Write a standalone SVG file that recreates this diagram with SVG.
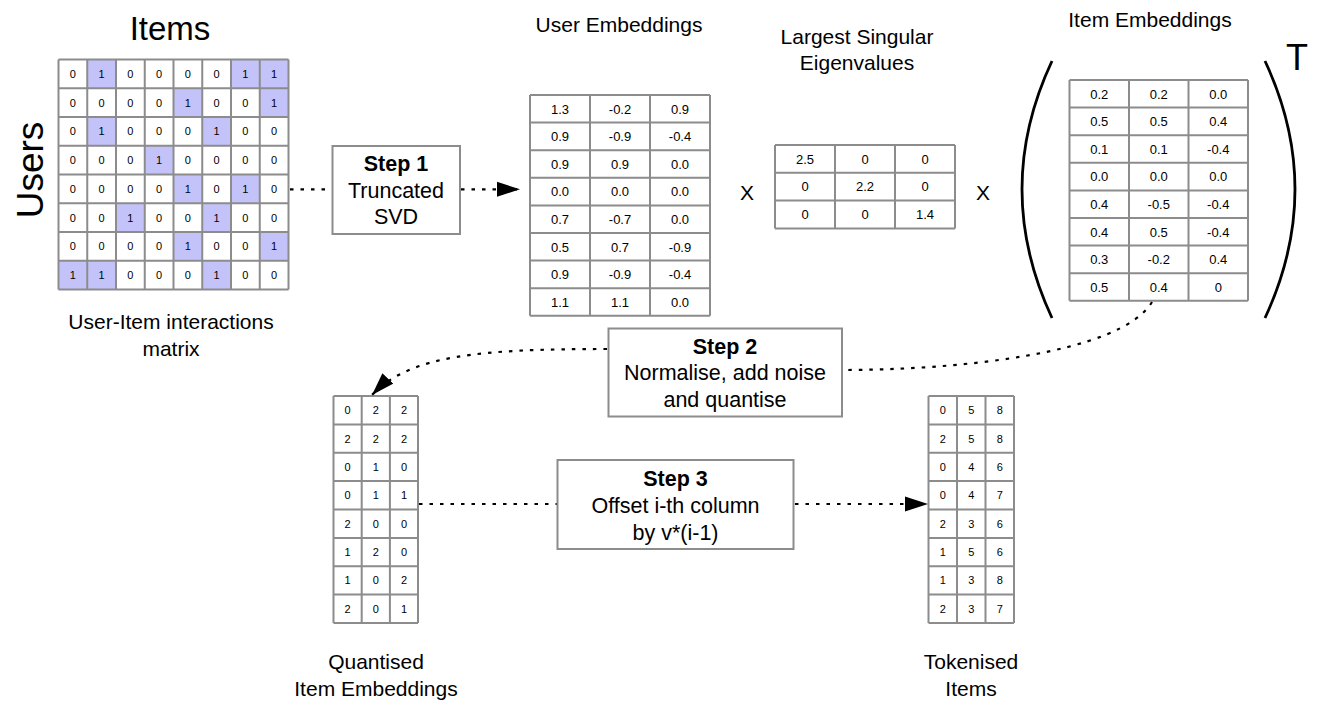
<svg xmlns="http://www.w3.org/2000/svg" width="1318" height="707" viewBox="0 0 1318 707">
<style>
text{font-family:"Liberation Sans",Arial,Helvetica,sans-serif;fill:#000}
.lbl{font-size:21px;text-anchor:middle}
.stp{font-size:21.5px;text-anchor:middle}
.b{font-weight:bold}
.grid{fill:none;stroke:#8c8c8c;stroke-width:2}
.bg{fill:#fff}
.hl{fill:#c3c3fa}
.box{fill:#fff;stroke:#8c8c8c;stroke-width:2}
.c10{font-size:11px;text-anchor:middle}
.c12{font-size:13px;text-anchor:middle}
.con{fill:none;stroke:#000;stroke-width:2.2;stroke-dasharray:3.5 7}
.paren{fill:none;stroke:#000;stroke-width:2.8}
</style>
<defs>
<marker id="arr" markerUnits="userSpaceOnUse" markerWidth="24" markerHeight="16" refX="23" refY="8" orient="auto" viewBox="0 0 24 16">
<path d="M0,0.5 L23,8 L0,15.5 z" fill="#000"/>
</marker>
</defs>
<rect width="1318" height="707" fill="#fff"/>

<g id="interaction-matrix">
<text x="170" y="40" style="font-size:33px;text-anchor:middle">Items</text>
<text transform="translate(43,170) rotate(-90)" style="font-size:37px;text-anchor:middle">Users</text>
<rect class="bg" x="58.5" y="59.5" width="230" height="230"/>
<g class="hl">
<rect x="87.25" y="59.5" width="28.75" height="28.75"/><rect x="231" y="59.5" width="28.75" height="28.75"/><rect x="259.75" y="59.5" width="28.75" height="28.75"/>
<rect x="173.5" y="88.25" width="28.75" height="28.75"/><rect x="259.75" y="88.25" width="28.75" height="28.75"/>
<rect x="87.25" y="117" width="28.75" height="28.75"/><rect x="202.25" y="117" width="28.75" height="28.75"/>
<rect x="144.75" y="145.75" width="28.75" height="28.75"/>
<rect x="173.5" y="174.5" width="28.75" height="28.75"/><rect x="231" y="174.5" width="28.75" height="28.75"/>
<rect x="116" y="203.25" width="28.75" height="28.75"/><rect x="202.25" y="203.25" width="28.75" height="28.75"/>
<rect x="173.5" y="232" width="28.75" height="28.75"/><rect x="259.75" y="232" width="28.75" height="28.75"/>
<rect x="58.5" y="260.75" width="28.75" height="28.75"/><rect x="87.25" y="260.75" width="28.75" height="28.75"/><rect x="202.25" y="260.75" width="28.75" height="28.75"/>
</g>
<path class="grid" d="M58.5,59.5V289.5M87.25,59.5V289.5M116,59.5V289.5M144.75,59.5V289.5M173.5,59.5V289.5M202.25,59.5V289.5M231,59.5V289.5M259.75,59.5V289.5M288.5,59.5V289.5M58.5,59.5H288.5M58.5,88.25H288.5M58.5,117H288.5M58.5,145.75H288.5M58.5,174.5H288.5M58.5,203.25H288.5M58.5,232H288.5M58.5,260.75H288.5M58.5,289.5H288.5"/>
<g class="c10">
<text x="72.9" y="77.8">0</text><text x="101.6" y="77.8">1</text><text x="130.4" y="77.8">0</text><text x="159.1" y="77.8">0</text><text x="187.9" y="77.8">0</text><text x="216.6" y="77.8">0</text><text x="245.4" y="77.8">1</text><text x="274.1" y="77.8">1</text>
<text x="72.9" y="106.5">0</text><text x="101.6" y="106.5">0</text><text x="130.4" y="106.5">0</text><text x="159.1" y="106.5">0</text><text x="187.9" y="106.5">1</text><text x="216.6" y="106.5">0</text><text x="245.4" y="106.5">0</text><text x="274.1" y="106.5">1</text>
<text x="72.9" y="135.3">0</text><text x="101.6" y="135.3">1</text><text x="130.4" y="135.3">0</text><text x="159.1" y="135.3">0</text><text x="187.9" y="135.3">0</text><text x="216.6" y="135.3">1</text><text x="245.4" y="135.3">0</text><text x="274.1" y="135.3">0</text>
<text x="72.9" y="164">0</text><text x="101.6" y="164">0</text><text x="130.4" y="164">0</text><text x="159.1" y="164">1</text><text x="187.9" y="164">0</text><text x="216.6" y="164">0</text><text x="245.4" y="164">0</text><text x="274.1" y="164">0</text>
<text x="72.9" y="192.8">0</text><text x="101.6" y="192.8">0</text><text x="130.4" y="192.8">0</text><text x="159.1" y="192.8">0</text><text x="187.9" y="192.8">1</text><text x="216.6" y="192.8">0</text><text x="245.4" y="192.8">1</text><text x="274.1" y="192.8">0</text>
<text x="72.9" y="221.5">0</text><text x="101.6" y="221.5">0</text><text x="130.4" y="221.5">1</text><text x="159.1" y="221.5">0</text><text x="187.9" y="221.5">0</text><text x="216.6" y="221.5">1</text><text x="245.4" y="221.5">0</text><text x="274.1" y="221.5">0</text>
<text x="72.9" y="250.3">0</text><text x="101.6" y="250.3">0</text><text x="130.4" y="250.3">0</text><text x="159.1" y="250.3">0</text><text x="187.9" y="250.3">1</text><text x="216.6" y="250.3">0</text><text x="245.4" y="250.3">0</text><text x="274.1" y="250.3">1</text>
<text x="72.9" y="279">1</text><text x="101.6" y="279">1</text><text x="130.4" y="279">0</text><text x="159.1" y="279">0</text><text x="187.9" y="279">0</text><text x="216.6" y="279">1</text><text x="245.4" y="279">0</text><text x="274.1" y="279">0</text>
</g>
<text class="lbl" x="171" y="329">User-Item interactions</text>
<text class="lbl" x="171" y="356">matrix</text>
</g>

<g id="user-embeddings">
<text class="lbl" x="619" y="32">User Embeddings</text>
<rect class="bg" x="530" y="95" width="180" height="220.8"/>
<path class="grid" d="M530,95V315.8M590,95V315.8M650,95V315.8M710,95V315.8M530,95H710M530,122.6H710M530,150.2H710M530,177.8H710M530,205.4H710M530,233H710M530,260.6H710M530,288.2H710M530,315.8H710"/>
<g class="c12">
<text x="560" y="113.5">1.3</text><text x="620" y="113.5">-0.2</text><text x="680" y="113.5">0.9</text>
<text x="560" y="141.1">0.9</text><text x="620" y="141.1">-0.9</text><text x="680" y="141.1">-0.4</text>
<text x="560" y="168.7">0.9</text><text x="620" y="168.7">0.9</text><text x="680" y="168.7">0.0</text>
<text x="560" y="196.3">0.0</text><text x="620" y="196.3">0.0</text><text x="680" y="196.3">0.0</text>
<text x="560" y="223.9">0.7</text><text x="620" y="223.9">-0.7</text><text x="680" y="223.9">0.0</text>
<text x="560" y="251.5">0.5</text><text x="620" y="251.5">0.7</text><text x="680" y="251.5">-0.9</text>
<text x="560" y="279.1">0.9</text><text x="620" y="279.1">-0.9</text><text x="680" y="279.1">-0.4</text>
<text x="560" y="306.7">1.1</text><text x="620" y="306.7">1.1</text><text x="680" y="306.7">0.0</text>
</g>
</g>

<text class="lbl" x="747" y="200">X</text>

<g id="singular-values">
<text class="lbl" x="857" y="44">Largest Singular</text>
<text class="lbl" x="857" y="70">Eigenvalues</text>
<rect class="bg" x="775" y="145" width="180" height="83.4"/>
<path class="grid" d="M775,145V228.4M835,145V228.4M895,145V228.4M955,145V228.4M775,145H955M775,172.8H955M775,200.6H955M775,228.4H955"/>
<g class="c12">
<text x="805" y="163.6">2.5</text><text x="865" y="163.6">0</text><text x="925" y="163.6">0</text>
<text x="805" y="191.4">0</text><text x="865" y="191.4">2.2</text><text x="925" y="191.4">0</text>
<text x="805" y="219.2">0</text><text x="865" y="219.2">0</text><text x="925" y="219.2">1.4</text>
</g>
</g>

<text class="lbl" x="983" y="200">X</text>

<g id="item-embeddings">
<text class="lbl" x="1150" y="27">Item Embeddings</text>
<path class="paren" d="M1052,61 Q992,189 1052,318"/>
<path class="paren" d="M1265,61 Q1325,189 1265,318"/>
<text x="1297" y="70" style="font-size:36px;text-anchor:middle">T</text>
<rect class="bg" x="1069.5" y="80" width="178.5" height="220.8"/>
<path class="grid" d="M1069.5,80V300.8M1129,80V300.8M1188.5,80V300.8M1248,80V300.8M1069.5,80H1248M1069.5,107.6H1248M1069.5,135.2H1248M1069.5,162.8H1248M1069.5,190.4H1248M1069.5,218H1248M1069.5,245.6H1248M1069.5,273.2H1248M1069.5,300.8H1248"/>
<g class="c12">
<text x="1099.25" y="98.5">0.2</text><text x="1158.75" y="98.5">0.2</text><text x="1218.25" y="98.5">0.0</text>
<text x="1099.25" y="126.1">0.5</text><text x="1158.75" y="126.1">0.5</text><text x="1218.25" y="126.1">0.4</text>
<text x="1099.25" y="153.7">0.1</text><text x="1158.75" y="153.7">0.1</text><text x="1218.25" y="153.7">-0.4</text>
<text x="1099.25" y="181.3">0.0</text><text x="1158.75" y="181.3">0.0</text><text x="1218.25" y="181.3">0.0</text>
<text x="1099.25" y="208.9">0.4</text><text x="1158.75" y="208.9">-0.5</text><text x="1218.25" y="208.9">-0.4</text>
<text x="1099.25" y="236.5">0.4</text><text x="1158.75" y="236.5">0.5</text><text x="1218.25" y="236.5">-0.4</text>
<text x="1099.25" y="264.1">0.3</text><text x="1158.75" y="264.1">-0.2</text><text x="1218.25" y="264.1">0.4</text>
<text x="1099.25" y="291.7">0.5</text><text x="1158.75" y="291.7">0.4</text><text x="1218.25" y="291.7">0</text>
</g>
</g>

<g id="quantised">
<rect class="bg" x="333.5" y="396" width="84.5" height="227"/>
<path class="grid" d="M333.5,396V623M361.7,396V623M389.9,396V623M418,396V623M333.5,396H418M333.5,424.4H418M333.5,452.75H418M333.5,481.1H418M333.5,509.5H418M333.5,537.9H418M333.5,566.25H418M333.5,594.6H418M333.5,623H418"/>
<g class="c10">
<text x="347.6" y="414.1">0</text><text x="375.8" y="414.1">2</text><text x="404" y="414.1">2</text>
<text x="347.6" y="442.5">2</text><text x="375.8" y="442.5">2</text><text x="404" y="442.5">2</text>
<text x="347.6" y="470.8">0</text><text x="375.8" y="470.8">1</text><text x="404" y="470.8">0</text>
<text x="347.6" y="499.2">0</text><text x="375.8" y="499.2">1</text><text x="404" y="499.2">1</text>
<text x="347.6" y="527.6">2</text><text x="375.8" y="527.6">0</text><text x="404" y="527.6">0</text>
<text x="347.6" y="556">1</text><text x="375.8" y="556">2</text><text x="404" y="556">0</text>
<text x="347.6" y="584.3">1</text><text x="375.8" y="584.3">0</text><text x="404" y="584.3">2</text>
<text x="347.6" y="612.7">2</text><text x="375.8" y="612.7">0</text><text x="404" y="612.7">1</text>
</g>
<text class="lbl" x="376" y="669">Quantised</text>
<text class="lbl" x="376" y="696">Item Embeddings</text>
</g>

<g id="tokenised">
<rect class="bg" x="928.5" y="396" width="85.5" height="227"/>
<path class="grid" d="M928.5,396V623M957,396V623M985.5,396V623M1014,396V623M928.5,396H1014M928.5,424.4H1014M928.5,452.75H1014M928.5,481.1H1014M928.5,509.5H1014M928.5,537.9H1014M928.5,566.25H1014M928.5,594.6H1014M928.5,623H1014"/>
<g class="c10">
<text x="942.75" y="414.1">0</text><text x="971.25" y="414.1">5</text><text x="999.75" y="414.1">8</text>
<text x="942.75" y="442.5">2</text><text x="971.25" y="442.5">5</text><text x="999.75" y="442.5">8</text>
<text x="942.75" y="470.8">0</text><text x="971.25" y="470.8">4</text><text x="999.75" y="470.8">6</text>
<text x="942.75" y="499.2">0</text><text x="971.25" y="499.2">4</text><text x="999.75" y="499.2">7</text>
<text x="942.75" y="527.6">2</text><text x="971.25" y="527.6">3</text><text x="999.75" y="527.6">6</text>
<text x="942.75" y="556">1</text><text x="971.25" y="556">5</text><text x="999.75" y="556">6</text>
<text x="942.75" y="584.3">1</text><text x="971.25" y="584.3">3</text><text x="999.75" y="584.3">8</text>
<text x="942.75" y="612.7">2</text><text x="971.25" y="612.7">3</text><text x="999.75" y="612.7">7</text>
</g>
<text class="lbl" x="971" y="669">Tokenised</text>
<text class="lbl" x="971" y="696">Items</text>
</g>

<g id="connectors">
<path class="con" d="M290,189.3 H332.5"/>
<path class="con" d="M461,189.3 H520" marker-end="url(#arr)"/>
<path class="con" d="M1152,302 C1120,355 950,370 843,370"/>
<path class="con" d="M607,349 C480,349 410,355 372,395" marker-end="url(#arr)"/>
<path class="con" d="M419,504 H557.5"/>
<path class="con" d="M795,504 H928" marker-end="url(#arr)"/>
</g>

<g id="step1">
<rect class="box" x="332.5" y="146" width="127.5" height="88"/>
<text class="stp b" x="396" y="171">Step 1</text>
<text class="stp" x="396" y="198">Truncated</text>
<text class="stp" x="396" y="224">SVD</text>
</g>

<g id="step2">
<rect class="box" x="608.5" y="328.5" width="233.5" height="88"/>
<text class="stp b" x="725" y="353.5">Step 2</text>
<text class="stp" x="725" y="380">Normalise, add noise</text>
<text class="stp" x="725" y="406.5">and quantise</text>
</g>

<g id="step3">
<rect class="box" x="557.5" y="460" width="236" height="89"/>
<text class="stp b" x="675.5" y="486">Step 3</text>
<text class="stp" x="675.5" y="513">Offset i-th column</text>
<text class="stp" x="675.5" y="540">by v*(i-1)</text>
</g>
</svg>
